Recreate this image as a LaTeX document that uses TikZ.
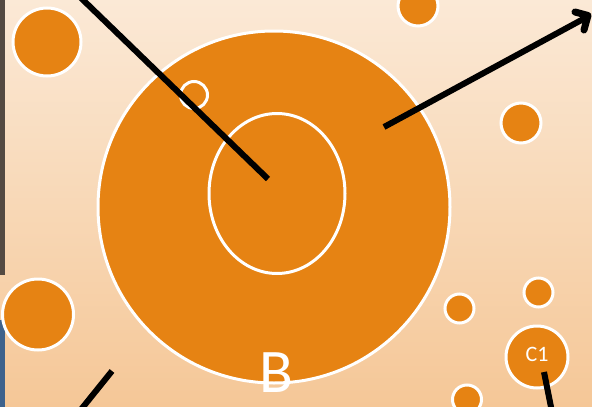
\documentclass[tikz,border=0pt]{standalone}
\usepackage{fontspec}
\setmainfont{Carlito}
\usetikzlibrary{arrows.meta,shapes.geometric}
\definecolor{org}{RGB}{230,131,19}
\definecolor{bgtop}{RGB}{251,233,214}
\definecolor{bgbot}{RGB}{245,199,151}
\definecolor{stripblue}{RGB}{62,98,140}
\definecolor{stripdark}{RGB}{84,74,66}
\begin{document}
\begin{tikzpicture}[x=1pt,y=-1pt,
  blob/.style={circle, fill=org, draw=white, line width=3pt, inner sep=0pt, minimum size=#1},
  ring/.style={ellipse, draw=white, line width=3pt, inner sep=0pt},
  blk/.style={draw=black, line width=6pt},
  barb/.style={draw=black, line width=7pt, line cap=round, line join=round},
  lbl/.style={text=white, inner sep=0pt}]
\useasboundingbox (0,0) rectangle (592,407);
\clip (0,0) rectangle (592,407);
\shade[top color=bgtop, bottom color=bgbot] (0,0) rectangle (592,407);
% left edge strips
\fill[stripdark] (0,0) rectangle (5,275);
\fill[stripblue] (0,320) rectangle (5,407);
% small circles
\node[blob=68] (tl) at (47,42) {};
\node[blob=40] (top) at (418,6) {};
\node[blob=40] (r1) at (521,123) {};
\node[blob=71] (bl) at (38,314.5) {};
\node[blob=29] (s1) at (459.5,308.5) {};
\node[blob=29] (s2) at (467,399.5) {};
\node[blob=29] (s3) at (538.5,292.5) {};
\node[blob=62] (c1) at (537,357) {};
\node[lbl, font=\fontsize{22}{22}\selectfont] (c1t) at (537,354.5) {C1};
% big circle
\node[blob=352] (big) at (274,207) {};
\node[ring, minimum width=136, minimum height=160] (inner) at (277,193.5) {};
\node[ring, circle, minimum size=27] (tiny) at (194,95) {};
% connectors
\coordinate (p1) at (80,-3);
\coordinate (p1e) at (268,179);
\draw[blk] (p1) -- (p1e);
\coordinate (p2) at (384,127);
\coordinate (p2e) at (587,17);
\coordinate (tip) at (588,15.5);
\coordinate (armA) at (575,12);
\coordinate (armB) at (584,30);
\draw[blk] (p2) -- (p2e);
\draw[barb] (armA) -- (tip) -- (armB);
\coordinate (p3) at (112,371);
\coordinate (p3e) at (79,412);
\draw[blk] (p3) -- (p3e);
\coordinate (p4) at (544,372);
\coordinate (p4e) at (552,412);
\draw[blk] (p4) -- (p4e);
% label
\node[lbl, font=\fontsize{62}{62}\selectfont] (blabel) at (276,373) {B};
\end{tikzpicture}
\end{document}
